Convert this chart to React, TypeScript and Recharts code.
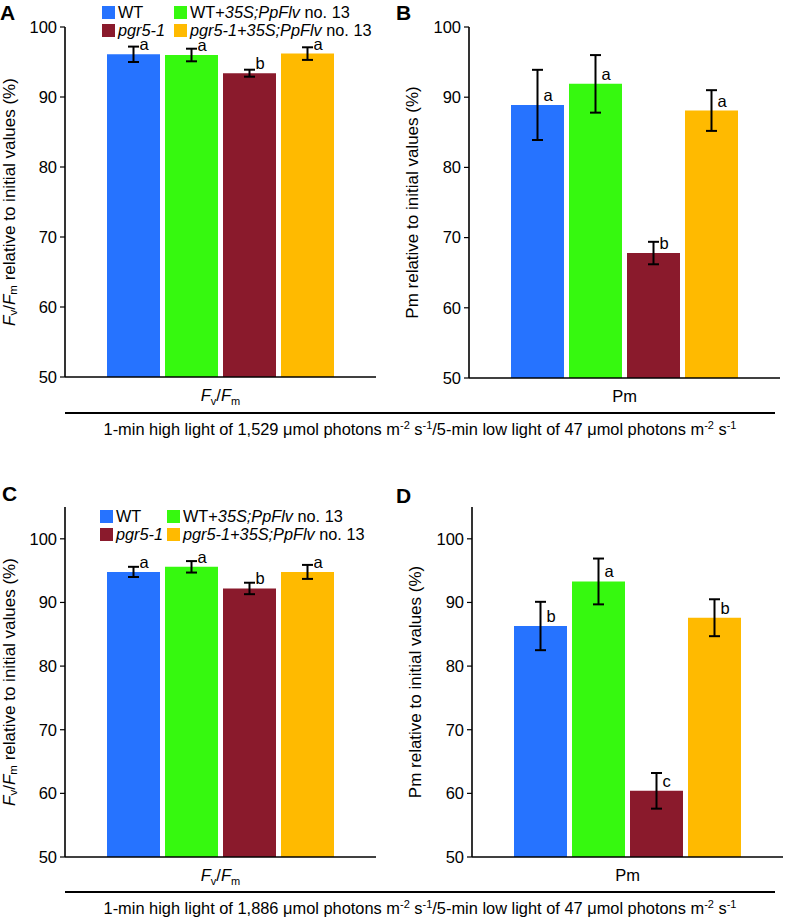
import React from 'react';
import { BarChart, Bar, XAxis, YAxis, ErrorBar, LabelList } from 'recharts';

const genotypes = ['WT', 'WT+35S;PpFlv no. 13', 'pgr5-1', 'pgr5-1+35S;PpFlv no. 13'];
const colors = ['#2673FF', '#36F90F', '#8A1A2C', '#FFBA00'];

const fvfmA = [96.1, 96.0, 93.4, 96.2];
const errA = [1.1, 0.9, 0.5, 0.9];
const lettersA = ['a', 'a', 'b', 'a'];

const pmB = [88.9, 91.9, 67.8, 88.1];
const errB = [5.0, 4.1, 1.6, 2.9];
const lettersB = ['a', 'a', 'b', 'a'];

const fvfmC = [94.8, 95.6, 92.2, 94.8];
const errC = [0.8, 0.9, 0.9, 1.1];
const lettersC = ['a', 'a', 'b', 'a'];

const pmD = [86.3, 93.3, 60.4, 87.6];
const errD = [3.8, 3.6, 2.8, 2.9];
const lettersD = ['b', 'a', 'c', 'b'];

const yTicks = [50, 60, 70, 80, 90, 100];

const FONT = '"Liberation Sans", Arial, sans-serif';

function buildRow(cat: string, vals: number[], errs: number[]) {
  const row: any = { cat };
  vals.forEach((v, i) => {
    row['g' + i] = v;
    row['e' + i] = errs[i];
  });
  return [row];
}

const FvFmTick = (props: any) => {
  const { x, y } = props;
  return (
    <text x={x} y={y + 16} textAnchor="middle" fontSize={16.5} fill="#000">
      <tspan fontStyle="italic">F</tspan>
      <tspan fontSize={11} dy={4}>v</tspan>
      <tspan dy={-4}>/</tspan>
      <tspan fontStyle="italic">F</tspan>
      <tspan fontSize={11} dy={4}>m</tspan>
    </text>
  );
};

const PmTick = (props: any) => {
  const { x, y } = props;
  return (
    <text x={x} y={y + 16} textAnchor="middle" fontSize={16.5} fill="#000">
      Pm
    </text>
  );
};

const YLabel = (props: any) => {
  const { viewBox, kind, cx } = props;
  const vb = viewBox || { x: 0, y: 0, width: 0, height: 0 };
  const x = vb.x + cx;
  const y = vb.y + vb.height / 2;
  return (
    <text
      x={x}
      y={y}
      transform={`rotate(-90, ${x}, ${y})`}
      textAnchor="middle"
      dominantBaseline="central"
      fontSize={17}
      fill="#000"
    >
      {kind === 'fvfm' ? (
        <>
          <tspan fontStyle="italic">F</tspan>
          <tspan fontSize={11.5} dy={4}>v</tspan>
          <tspan dy={-4}>/</tspan>
          <tspan fontStyle="italic">F</tspan>
          <tspan fontSize={11.5} dy={4}>m</tspan>
          <tspan dy={-4}> relative to initial values (%)</tspan>
        </>
      ) : (
        'Pm relative to initial values (%)'
      )}
    </text>
  );
};

const makeLetter = (letters: string[], i: number) => (props: any) => {
  const { x, y, width } = props;
  return (
    <text x={Number(x) + Number(width) / 2 + 6} y={Number(y) - 4} fontSize={16.5} fill="#000">
      {letters[i]}
    </text>
  );
};

type PanelProps = {
  left: number;
  top: number;
  width: number;
  height: number;
  margin: { top: number; right: number; bottom: number; left: number };
  yWidth: number;
  domain: [number, number];
  vals: number[];
  errs: number[];
  letters: string[];
  cat: string;
  kind: 'fvfm' | 'pm';
  labelCx: number;
};

const Panel = (p: PanelProps) => {
  const data = buildRow(p.cat, p.vals, p.errs);
  return (
    <div style={{ position: 'absolute', left: p.left, top: p.top }}>
      <BarChart width={p.width} height={p.height} data={data} margin={p.margin} barSize={53} barGap={5}>
        <XAxis
          dataKey="cat"
          height={30}
          tickLine={false}
          axisLine={{ stroke: '#000', strokeWidth: 1.6 }}
          tick={p.kind === 'fvfm' ? <FvFmTick /> : <PmTick />}
        />
        <YAxis
          width={p.yWidth}
          type="number"
          domain={p.domain}
          ticks={yTicks}
          allowDataOverflow
          interval={0}
          axisLine={{ stroke: '#000', strokeWidth: 1.6 }}
          tickLine={{ stroke: '#000', strokeWidth: 1.2 }}
          tickSize={5}
          tickMargin={3}
          tick={{ fill: '#000', fontSize: 16.5 }}
          label={<YLabel kind={p.kind} cx={p.labelCx} />}
        />
        {colors.map((c, i) => (
          <Bar key={i} dataKey={'g' + i} fill={c} isAnimationActive={false}>
            <ErrorBar dataKey={'e' + i} width={5.5} stroke="#000" strokeWidth={2} direction="y" />
            <LabelList dataKey={'g' + i} content={makeLetter(p.letters, i)} />
          </Bar>
        ))}
      </BarChart>
    </div>
  );
};

const LegendBox = ({ left, top, colGap }: { left: number; top: number; colGap: number }) => {
  const item = (i: number, content: React.ReactNode) => (
    <div style={{ display: 'flex', alignItems: 'center', height: 18 }}>
      <span style={{ display: 'inline-block', width: 13, height: 13, background: colors[i], marginRight: 3 }} />
      <span style={{ whiteSpace: 'nowrap' }}>{content}</span>
    </div>
  );
  const flv = (
    <>
      <i>35S;PpFlv</i> no. 13
    </>
  );
  return (
    <div
      style={{
        position: 'absolute',
        left,
        top,
        fontSize: 16.3,
        lineHeight: '18px',
        display: 'grid',
        gridTemplateColumns: `${colGap}px auto`,
        color: '#000',
      }}
    >
      {item(0, genotypes[0])}
      {item(1, <>WT+{flv}</>)}
      {item(2, <i>pgr5-1</i>)}
      {item(3, <><i>pgr5-1+</i>{flv}</>)}
    </div>
  );
};

const Caption = ({ top, value }: { top: number; value: string }) => (
  <>
    <div style={{ position: 'absolute', left: 65, top, width: 710, height: 1.6, background: '#000' }} />
    <div
      style={{
        position: 'absolute',
        left: 65,
        top: top + 9,
        width: 710,
        textAlign: 'center',
        fontSize: 16.4,
        lineHeight: '17px',
        color: '#000',
        whiteSpace: 'nowrap',
      }}
    >
      1-min high light of {value} μmol photons m<sup style={{ fontSize: 11, lineHeight: 0 }}>-2</sup> s
      <sup style={{ fontSize: 11, lineHeight: 0 }}>-1</sup>/5-min low light of 47 μmol photons m
      <sup style={{ fontSize: 11, lineHeight: 0 }}>-2</sup> s<sup style={{ fontSize: 11, lineHeight: 0 }}>-1</sup>
    </div>
  </>
);

const PanelLetter = ({ left, top, text }: { left: number; top: number; text: string }) => (
  <div style={{ position: 'absolute', left, top, fontSize: 21, fontWeight: 'bold', lineHeight: '22px' }}>{text}</div>
);

export default function App() {
  return (
    <div
      style={{
        position: 'absolute',
        left: 0,
        top: 0,
        width: 785,
        height: 918,
        background: '#fff',
        fontFamily: FONT,
        overflow: 'hidden',
      }}
    >
      <Panel
        left={0}
        top={0}
        width={390}
        height={440}
        margin={{ top: 27, right: 14, bottom: 33, left: 0 }}
        yWidth={65}
        domain={[50, 100]}
        vals={fvfmA}
        errs={errA}
        letters={lettersA}
        cat="Fv/Fm"
        kind="fvfm"
        labelCx={9}
      />
      <Panel
        left={390}
        top={0}
        width={395}
        height={440}
        margin={{ top: 27, right: 5, bottom: 32, left: 0 }}
        yWidth={79}
        domain={[50, 100]}
        vals={pmB}
        errs={errB}
        letters={lettersB}
        cat="Pm"
        kind="pm"
        labelCx={22}
      />
      <Panel
        left={0}
        top={440}
        width={390}
        height={478}
        margin={{ top: 67, right: 14, bottom: 31, left: 0 }}
        yWidth={65}
        domain={[50, 105]}
        vals={fvfmC}
        errs={errC}
        letters={lettersC}
        cat="Fv/Fm"
        kind="fvfm"
        labelCx={9}
      />
      <Panel
        left={390}
        top={440}
        width={395}
        height={478}
        margin={{ top: 67, right: 2, bottom: 31, left: 0 }}
        yWidth={82}
        domain={[50, 105]}
        vals={pmD}
        errs={errD}
        letters={lettersD}
        cat="Pm"
        kind="pm"
        labelCx={25}
      />
      <LegendBox left={102} top={3} colGap={72} />
      <LegendBox left={100} top={507} colGap={67} />
      <Caption top={412} value="1,529" />
      <Caption top={891} value="1,886" />
      <PanelLetter left={0} top={2} text="A" />
      <PanelLetter left={396} top={2} text="B" />
      <PanelLetter left={2} top={483} text="C" />
      <PanelLetter left={396} top={485} text="D" />
    </div>
  );
}
